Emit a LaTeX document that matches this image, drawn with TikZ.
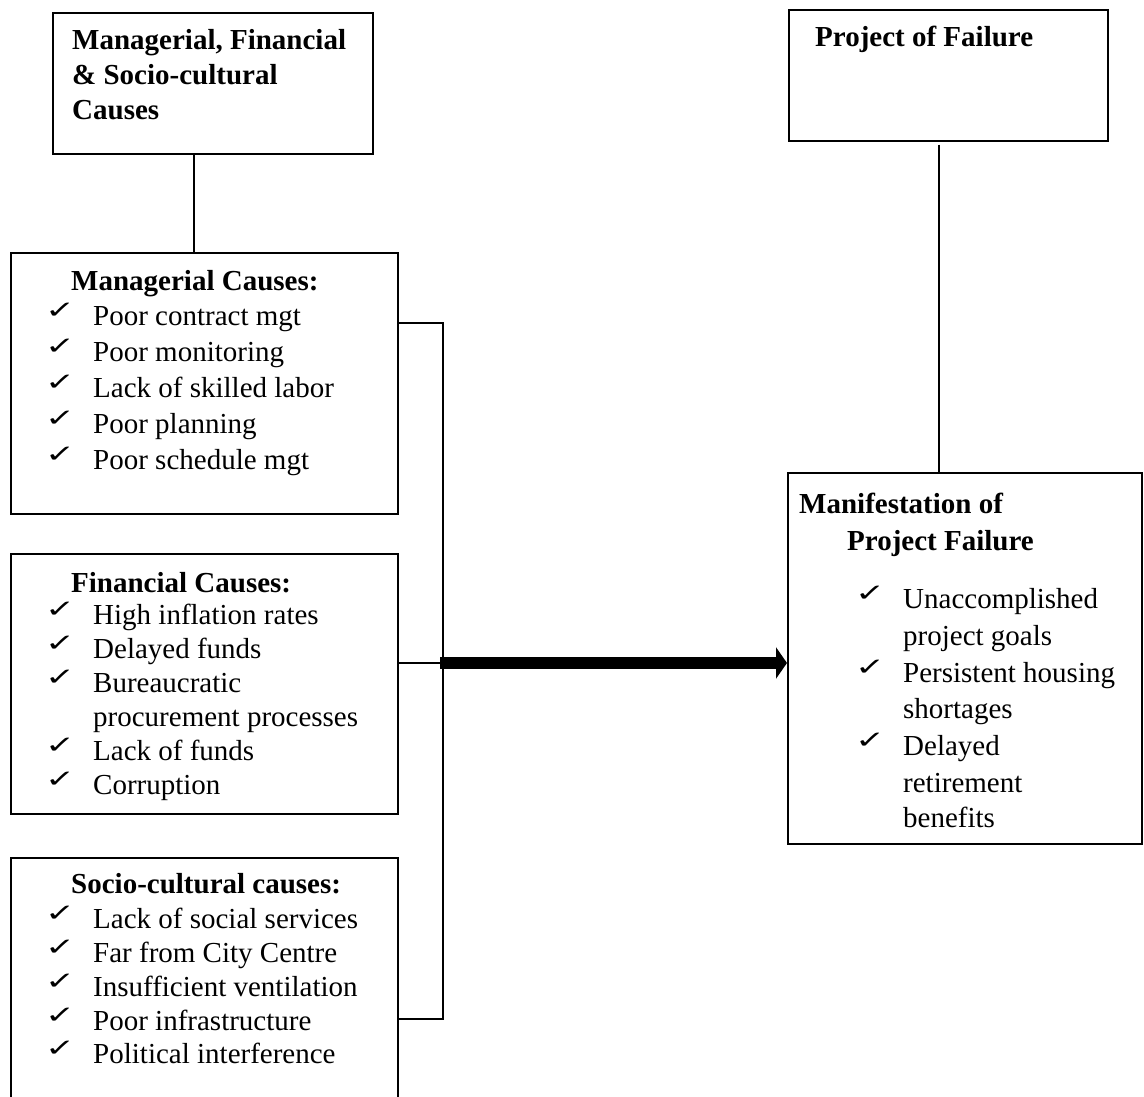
\documentclass[tikz,border=0pt]{standalone}
\usepackage{fontspec}
\setmainfont{Liberation Serif}
\newfontfamily\ckfont{DejaVu Sans}
\usetikzlibrary{arrows.meta}
\newcommand\ckitem[4]{%
  \node[ck] (#1c) at (#2-48,#3-7) {\scalebox{1}[0.68]{✓}};
  \node[txt] (#1) at (#2,#3) {#4};}
\begin{document}
\begin{tikzpicture}[x=1pt,y=-1pt,
  box/.style={draw, line width=1.6pt, inner sep=0pt, anchor=north west},
  txt/.style={anchor=base west, inner sep=0pt, font=\fontsize{29}{35}\selectfont},
  ttl/.style={anchor=base west, inner sep=0pt, font=\fontsize{29}{35}\selectfont\bfseries},
  ck/.style={anchor=base west, inner sep=0pt, font=\ckfont\bfseries\fontsize{36}{42}\selectfont},
  ln/.style={line width=1.6pt}]
\useasboundingbox (0,0) rectangle (1144,1097);
\clip (0,0) rectangle (1144,1097);
% boxes
\node[box, minimum width=320pt, minimum height=141pt] (top) at (52,12) {};
\node[box, minimum width=319pt, minimum height=131pt] (pof) at (788,9) {};
\node[box, minimum width=387pt, minimum height=261pt] (mgr) at (10,252) {};
\node[box, minimum width=387pt, minimum height=260pt] (fin) at (10,553) {};
\node[box, minimum width=387pt, minimum height=250pt] (soc) at (10,857) {};
\node[box, minimum width=354pt, minimum height=371pt] (mani) at (787,472) {};
% top-left text
\node[ttl] (t1) at (72,50) {Managerial, Financial};
\node[ttl] (t2) at (72,85) {\& Socio-cultural};
\node[ttl] (t3) at (72,120) {Causes};
\node[ttl] (p1) at (815,47) {Project of Failure};
% managerial
\node[ttl] (mt) at (71,290) {Managerial Causes:};
\ckitem{m1}{93}{325}{Poor contract mgt}
\ckitem{m2}{93}{361}{Poor monitoring}
\ckitem{m3}{93}{397}{Lack of skilled labor}
\ckitem{m4}{93}{433}{Poor planning}
\ckitem{m5}{93}{469}{Poor schedule mgt}
% financial
\node[ttl] (ft) at (71,592) {Financial Causes:};
\ckitem{f1}{93}{624}{High inflation rates}
\ckitem{f2}{93}{658}{Delayed funds}
\ckitem{f3}{93}{692}{Bureaucratic}
\node[txt] (f3b) at (93,726) {procurement processes};
\ckitem{f4}{93}{760}{Lack of funds}
\ckitem{f5}{93}{794}{Corruption}
% socio-cultural
\node[ttl] (st) at (71,893) {Socio-cultural causes:};
\ckitem{s1}{93}{928}{Lack of social services}
\ckitem{s2}{93}{962}{Far from City Centre}
\ckitem{s3}{93}{996}{Insufficient ventilation}
\ckitem{s4}{93}{1030}{Poor infrastructure}
\ckitem{s5}{93}{1063}{Political interference}
% manifestation
\node[ttl] (mf1) at (799,513) {Manifestation of};
\node[ttl] (mf2) at (847,550) {Project Failure};
\ckitem{x1}{903}{608}{Unaccomplished}
\node[txt] (x1b) at (903,645) {project goals};
\ckitem{x2}{903}{682}{Persistent housing}
\node[txt] (x2b) at (903,718) {shortages};
\ckitem{x3}{903}{755}{Delayed}
\node[txt] (x3b) at (903,792) {retirement};
\node[txt] (x3c) at (903,827) {benefits};
% connectors
\coordinate (v1) at (194,0);
\coordinate (v2) at (939,0);
\draw[ln] (v1 |- top.south) -- (v1 |- mgr.north);
\draw[ln] ([yshift=-3pt]v2 |- pof.south) -- (v2 |- mani.north);
\coordinate (bt) at (443,323);
\coordinate (bb) at (443,1019);
\coordinate (jn) at (443,663);
\draw[ln] (mgr.east |- bt) -- (bt) -- (bb) -- (soc.east |- bb);
\draw[ln] (fin.east |- jn) -- (jn);
\draw[line width=12pt, -{Triangle[length=11pt,width=31pt]}] ([xshift=-3pt]jn) -- (mani.west |- jn);
\end{tikzpicture}
\end{document}
